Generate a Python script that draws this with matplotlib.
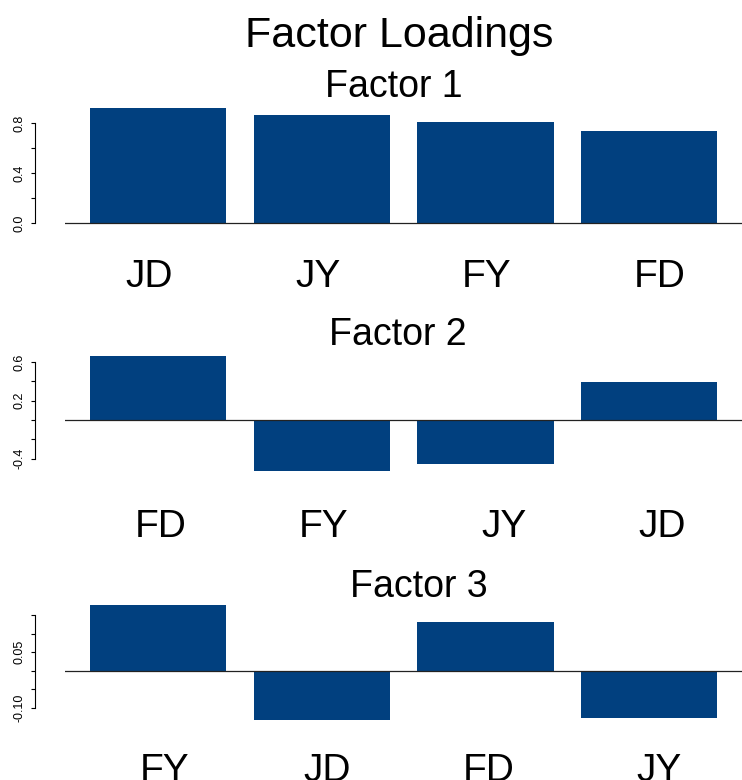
import matplotlib
matplotlib.use("Agg")
import matplotlib.pyplot as plt

plt.rcParams["font.family"] = ["Liberation Sans", "DejaVu Sans"]

# Factor loadings per factor, variables sorted by loading order
f1_labels = ["JD", "JY", "FY", "FD"]
f1_values = [0.92, 0.866, 0.813, 0.741]

f2_labels = ["FD", "FY", "JY", "JD"]
f2_values = [0.662, -0.528, -0.46, 0.394]

f3_labels = ["FY", "JD", "FD", "JY"]
f3_values = [0.176, -0.133, 0.130, -0.128]

f1_ticks = [0.0, 0.2, 0.4, 0.6, 0.8]
f1_ticklabels = ["0.0", "", "0.4", "", "0.8"]
f2_ticks = [-0.4, -0.2, 0.0, 0.2, 0.4, 0.6]
f2_ticklabels = ["-0.4", "", "", "0.2", "", "0.6"]
f3_ticks = [-0.10, -0.05, 0.0, 0.05, 0.10, 0.15]
f3_ticklabels = ["-0.10", "", "", "0.05", "", ""]

BAR = "#01407F"
W, H = 742, 780

fig = plt.figure(figsize=(W / 100, H / 100), dpi=100)


def px_axes(left, top, width, height):
    return fig.add_axes([left / W, 1 - (top + height) / H, width / W, height / H])


def panel(top, labels, values, ticks, ticklabels, title, title_x, title_base,
          label_xs, label_base):
    ax = px_axes(64.9, top, 677.6, 124.3)
    n = len(values)
    lefts = [0.2 + i * 1.2 for i in range(n)]
    ax.bar(lefts, values, width=1.0, align="edge", color=BAR, linewidth=0)
    ax.axhline(0, color="#222222", lw=0.9, zorder=3)
    lo = min(0, min(values))
    hi = max(0, max(values))
    pad = 0.04 * (hi - lo)
    ax.set_ylim(lo - pad, hi + pad)
    ax.set_xlim(0.2 - 0.04 * 4.6, 4.8 + 0.04 * 4.6)
    for s in ("top", "right", "bottom"):
        ax.spines[s].set_visible(False)
    ax.spines["left"].set_position(("outward", 21.6))
    ax.spines["left"].set_bounds(ticks[0], ticks[-1])
    ax.spines["left"].set_linewidth(0.8)
    ax.set_xticks([])
    ax.set_yticks(ticks)
    ax.set_yticklabels(ticklabels, rotation=90, va="center", fontsize=9)
    ax.tick_params(axis="y", length=3, width=0.8, pad=3.5)
    fig.text(title_x / W, 1 - title_base / H, title, ha="center",
             va="baseline", fontsize=27)
    for lx, lab in zip(label_xs, labels):
        fig.text(lx / W, 1 - label_base / H, lab, ha="center",
                 va="baseline", fontsize=28)
    return ax


fig.text(399 / W, 1 - 47 / H, "Factor Loadings", ha="center",
         va="baseline", fontsize=31)

panel(103.7, f1_labels, f1_values, f1_ticks, f1_ticklabels, "Factor 1",
      394, 97, [149, 318, 487, 660], 287)
panel(351.3, f2_labels, f2_values, f2_ticks, f2_ticklabels, "Factor 2",
      398, 345, [161, 324, 504, 662], 537)
panel(600.6, f3_labels, f3_values, f3_ticks, f3_ticklabels, "Factor 3",
      419, 597, [165, 327, 489, 659], 781)

fig.savefig("out.png", dpi=100)
